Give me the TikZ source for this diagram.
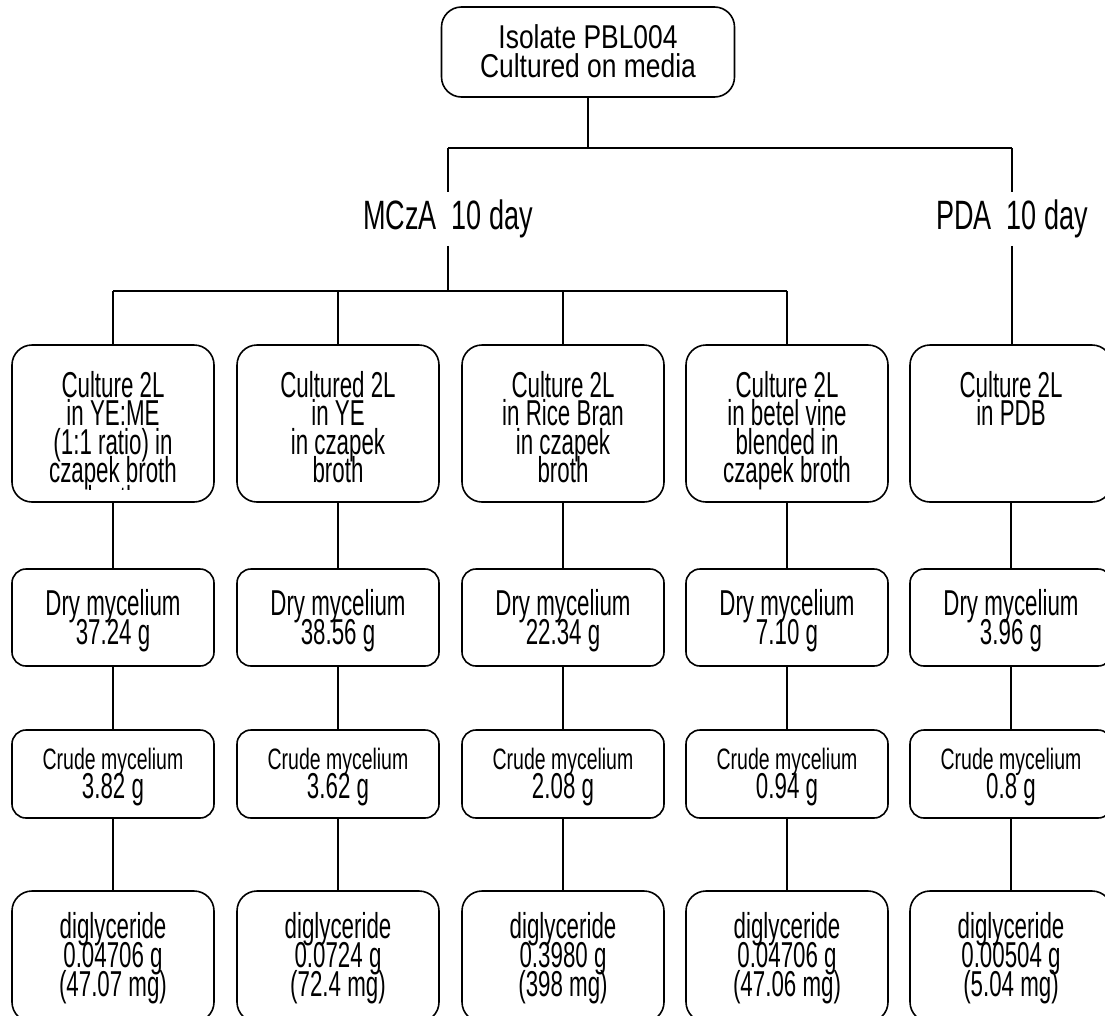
\documentclass[tikz,border=0pt]{standalone}
\usepackage{fontspec}
\setmainfont[FakeStretch=0.62]{Liberation Sans}
\newfontfamily\widefont[FakeStretch=0.8]{Liberation Sans}
\newfontfamily\midfont[FakeStretch=0.66]{Liberation Sans}
\usetikzlibrary{positioning}

\begin{document}
% fixed line pitch, even where glyphs touch
\lineskiplimit=-50pt
\begin{tikzpicture}[x=1pt, y=-1pt, line width=1.6pt,
    box/.style={draw, rounded corners=14pt, minimum width=202pt, inner sep=0pt},
    culbox/.style={box, rounded corners=20pt, minimum height=157pt},
    drybox/.style={box, minimum height=97pt},
    crdbox/.style={box, minimum height=88pt},
    digbox/.style={box, rounded corners=20pt, minimum height=131pt},
    txt/.style={align=center, inner sep=0pt, font=\fontsize{36}{28.5}\selectfont},
    lbl/.style={inner sep=0pt, minimum height=52pt, font=\midfont\fontsize{41}{41}\selectfont}]
    \useasboundingbox (0,0) rectangle (1105,1015);
    \clip (0,0) rectangle (1105,1015);

    % start of the tree
    \node[box, rounded corners=20pt, minimum width=293pt, minimum height=90pt] (isolate) at (588,52) {};
    \node[txt, font=\widefont\fontsize{33}{29}\selectfont, below=17.5pt of isolate.north] (isolatet)
        {Isolate PBL004\\Cultured on media};

    % two media
    \node[lbl] (mcza) at (448,219) {MCzA\ \ 10 day};
    \node[lbl] (pda) at (1012,219) {PDA\ \ 10 day};

    % culture boxes
    \node[culbox] (cul1) at (113,423.5) {};
    \node[culbox] (cul2) at (338,423.5) {};
    \node[culbox] (cul3) at (563,423.5) {};
    \node[culbox] (cul4) at (787,423.5) {};
    \node[culbox] (cul5) at (1011,423.5) {};
    \begin{scope}
        \clip (cul1.north west) rectangle ([yshift=13pt]cul1.south east);
        \node[txt, below=26pt of cul1.north] (cul1t)
            {Culture 2L\\in YE:ME\\(1:1 ratio) in\\czapek broth\\broth};
    \end{scope}
    \node[txt, below=26pt of cul2.north] (cul2t) {Cultured 2L\\in YE\\in czapek\\broth};
    \node[txt, below=26pt of cul3.north] (cul3t) {Culture 2L\\in Rice Bran\\in czapek\\broth};
    \node[txt, below=26pt of cul4.north] (cul4t) {Culture 2L\\in betel vine\\blended in\\czapek broth};
    \node[txt, below=26pt of cul5.north] (cul5t) {Culture 2L\\in PDB};

    % dry mycelium
    \node[drybox] (dry1) at (113,617.5) {};
    \node[drybox] (dry2) at (338,617.5) {};
    \node[drybox] (dry3) at (563,617.5) {};
    \node[drybox] (dry4) at (787,617.5) {};
    \node[drybox] (dry5) at (1011,617.5) {};
    \node[txt, font=\fontsize{36}{29}\selectfont, below=20.5pt of dry1.north] {Dry mycelium\\37.24 g};
    \node[txt, font=\fontsize{36}{29}\selectfont, below=20.5pt of dry2.north] {Dry mycelium\\38.56 g};
    \node[txt, font=\fontsize{36}{29}\selectfont, below=20.5pt of dry3.north] {Dry mycelium\\22.34 g};
    \node[txt, font=\fontsize{36}{29}\selectfont, below=20.5pt of dry4.north] {Dry mycelium\\7.10 g};
    \node[txt, font=\fontsize{36}{29}\selectfont, below=20.5pt of dry5.north] {Dry mycelium\\3.96 g};

    % crude mycelium
    \node[crdbox] (crd1) at (113,774) {};
    \node[crdbox] (crd2) at (338,774) {};
    \node[crdbox] (crd3) at (563,774) {};
    \node[crdbox] (crd4) at (787,774) {};
    \node[crdbox] (crd5) at (1011,774) {};
    \node[txt, font=\fontsize{36}{29}\selectfont, below=18pt of crd1.north]
        {{\midfont\fontsize{29.5}{29}\selectfont Crude mycelium}\\3.82 g};
    \node[txt, font=\fontsize{36}{29}\selectfont, below=18pt of crd2.north]
        {{\midfont\fontsize{29.5}{29}\selectfont Crude mycelium}\\3.62 g};
    \node[txt, font=\fontsize{36}{29}\selectfont, below=18pt of crd3.north]
        {{\midfont\fontsize{29.5}{29}\selectfont Crude mycelium}\\2.08 g};
    \node[txt, font=\fontsize{36}{29}\selectfont, below=18pt of crd4.north]
        {{\midfont\fontsize{29.5}{29}\selectfont Crude mycelium}\\0.94 g};
    \node[txt, font=\fontsize{36}{29}\selectfont, below=18pt of crd5.north]
        {{\midfont\fontsize{29.5}{29}\selectfont Crude mycelium}\\0.8 g};

    % diglyceride yield
    \node[digbox] (dig1) at (113,956.5) {};
    \node[digbox] (dig2) at (338,956.5) {};
    \node[digbox] (dig3) at (563,956.5) {};
    \node[digbox] (dig4) at (787,956.5) {};
    \node[digbox] (dig5) at (1011,956.5) {};
    \node[txt, font=\fontsize{36}{29}\selectfont, below=21pt of dig1.north] {diglyceride\\0.04706 g\\(47.07 mg)};
    \node[txt, font=\fontsize{36}{29}\selectfont, below=21pt of dig2.north] {diglyceride\\0.0724 g\\(72.4 mg)};
    \node[txt, font=\fontsize{36}{29}\selectfont, below=21pt of dig3.north] {diglyceride\\0.3980 g\\(398 mg)};
    \node[txt, font=\fontsize{36}{29}\selectfont, below=21pt of dig4.north] {diglyceride\\0.04706 g\\(47.06 mg)};
    \node[txt, font=\fontsize{36}{29}\selectfont, below=21pt of dig5.north] {diglyceride\\0.00504 g\\(5.04 mg)};

    % branch lines
    \coordinate (jm) at (448,148);
    \coordinate (jp) at (1012,148);
    \coordinate (jl) at (113,291);
    \coordinate (jr) at (787,291);
    \draw (isolate.south) -- (isolate.south |- jm);
    \draw (jm) -- (jp);
    \draw (jm) -- (mcza.north);
    \draw (mcza.south) -- (mcza.south |- jl);
    \draw (jp) -- (pda.north);
    \draw (pda.south) -- (pda.south |- cul5.north);
    \draw (jl) -- (jr);
    \draw (jl) -- (cul1.north);
    \draw (cul2.north |- jl) -- (cul2.north);
    \draw (cul3.north |- jl) -- (cul3.north);
    \draw (jr) -- (cul4.north);
    \foreach \i in {1,...,5}
        \draw (cul\i) -- (dry\i) (dry\i) -- (crd\i) (crd\i) -- (dig\i);
\end{tikzpicture}
\end{document}
